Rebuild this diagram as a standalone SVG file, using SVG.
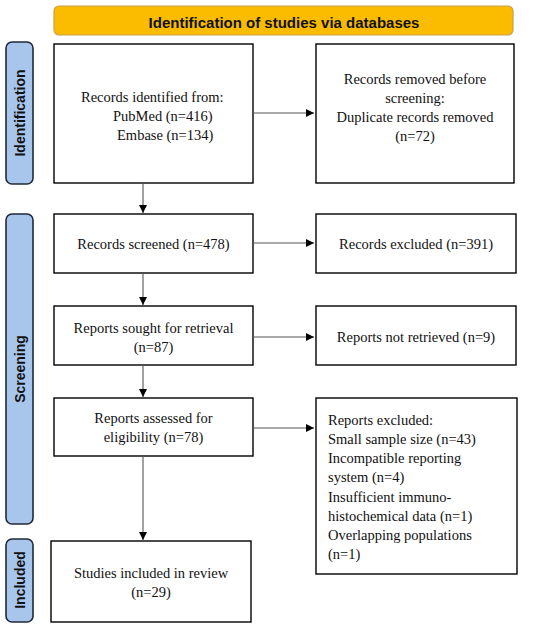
<svg xmlns="http://www.w3.org/2000/svg" width="550" height="631" viewBox="0 0 550 631">
<style>
.box{fill:#fff;stroke:#000;stroke-width:1.4}
.side{fill:#a8c6ec;stroke:#1f2a3a;stroke-width:1.6}
.t{font-family:"Liberation Serif","Times New Roman",serif;font-size:14.5px;fill:#111}
.c{text-anchor:middle}
.sl{font-family:"Liberation Sans",Arial,sans-serif;font-weight:bold;font-size:14px;fill:#111;text-anchor:middle}
.conn line{stroke:#555;stroke-width:1.1}
</style>
<defs>
<marker id="ah" viewBox="0 0 10 10" refX="10" refY="5" markerWidth="8" markerHeight="8" markerUnits="userSpaceOnUse" orient="auto">
<path d="M0,0 L10,5 L0,10 z" fill="#000"/>
</marker>
</defs>
<rect width="550" height="631" fill="#fff"/>
<g id="header">
<rect x="54" y="6" width="459" height="29" rx="5" fill="#fbbc00" stroke="#c9a04a" stroke-width="1.2"/>
<text x="284" y="28" class="sl" style="font-size:15px">Identification of studies via databases</text>
</g>
<g id="side-identification">
<rect x="6" y="42" width="27" height="142" rx="6" class="side"/>
<text class="sl" transform="translate(25,113) rotate(-90)">Identification</text>
</g>
<g id="side-screening">
<rect x="6" y="214" width="27" height="310" rx="6" class="side"/>
<text class="sl" transform="translate(25,369) rotate(-90)">Screening</text>
</g>
<g id="side-included">
<rect x="6" y="539" width="27" height="83" rx="6" class="side"/>
<text class="sl" transform="translate(25,580) rotate(-90)">Included</text>
</g>
<g id="records-identified">
<rect x="54" y="44" width="199" height="139" class="box"/>
<text class="t" x="81" y="102">Records identified from:</text>
<text class="t" x="113" y="121">PubMed (n=416)</text>
<text class="t" x="117" y="140">Embase (n=134)</text>
</g>
<g id="records-removed">
<rect x="316" y="44" width="198" height="139" class="box"/>
<text class="t c" x="415" y="84">Records removed before</text>
<text class="t c" x="415" y="103">screening:</text>
<text class="t c" x="415" y="122">Duplicate records removed</text>
<text class="t c" x="415" y="141">(n=72)</text>
</g>
<g id="records-screened">
<rect x="54" y="214" width="199" height="59" class="box"/>
<text class="t c" x="153.5" y="249">Records screened (n=478)</text>
</g>
<g id="records-excluded">
<rect x="316" y="214" width="200" height="59" class="box"/>
<text class="t c" x="416" y="249">Records excluded (n=391)</text>
</g>
<g id="reports-sought">
<rect x="54" y="306" width="199" height="59" class="box"/>
<text class="t c" x="153.5" y="333">Reports sought for retrieval</text>
<text class="t c" x="153.5" y="352">(n=87)</text>
</g>
<g id="reports-not-retrieved">
<rect x="316" y="306" width="200" height="59" class="box"/>
<text class="t c" x="416" y="342">Reports not retrieved (n=9)</text>
</g>
<g id="reports-assessed">
<rect x="54" y="398" width="199" height="58" class="box"/>
<text class="t c" x="153.5" y="423">Reports assessed for</text>
<text class="t c" x="153.5" y="442">eligibility (n=78)</text>
</g>
<g id="reports-excluded">
<rect x="316" y="398" width="201" height="176" class="box"/>
<text class="t" x="328" y="425">Reports excluded:</text>
<text class="t" x="328" y="444">Small sample size (n=43)</text>
<text class="t" x="328" y="463">Incompatible reporting</text>
<text class="t" x="328" y="482">system (n=4)</text>
<text class="t" x="328" y="502">Insufficient immuno-</text>
<text class="t" x="328" y="521">histochemical data (n=1)</text>
<text class="t" x="328" y="540">Overlapping populations</text>
<text class="t" x="328" y="559">(n=1)</text>
</g>
<g id="studies-included">
<rect x="51" y="541" width="200" height="81" class="box"/>
<text class="t c" x="151" y="578">Studies included in review</text>
<text class="t c" x="151" y="597">(n=29)</text>
</g>
<g id="connectors" class="conn">
<line x1="254" y1="113" x2="314" y2="113" marker-end="url(#ah)"/>
<line x1="254" y1="243" x2="314" y2="243" marker-end="url(#ah)"/>
<line x1="254" y1="337" x2="314" y2="337" marker-end="url(#ah)"/>
<line x1="254" y1="428" x2="314" y2="428" marker-end="url(#ah)"/>
<line x1="143" y1="183" x2="143" y2="213" marker-end="url(#ah)"/>
<line x1="143" y1="273" x2="143" y2="305" marker-end="url(#ah)"/>
<line x1="143" y1="365" x2="143" y2="397" marker-end="url(#ah)"/>
<line x1="143" y1="456" x2="143" y2="540" marker-end="url(#ah)"/>
</g>
</svg>
